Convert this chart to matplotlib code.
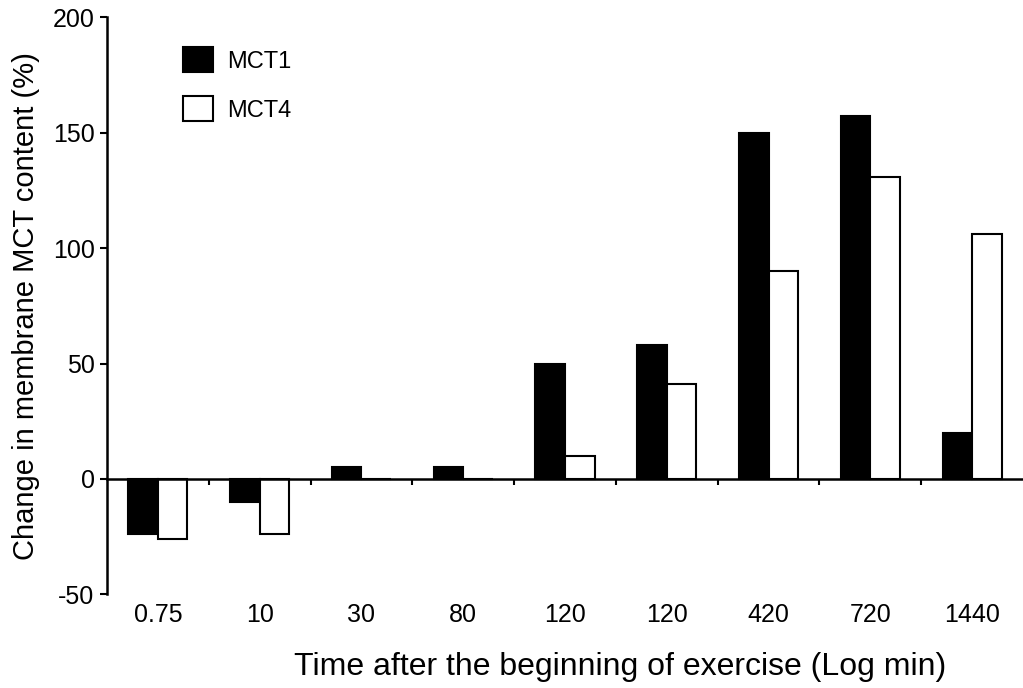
import matplotlib
matplotlib.use("Agg")
import matplotlib.pyplot as plt
from matplotlib.ticker import FuncFormatter
import numpy as np

categories = ["0.75", "10", "30", "80", "120", "120", "420", "720", "1440"]
mct1 = [-24, -10, 5, 5, 50, 58, 150, 157, 20]
mct4 = [-26, -24, 0, 0, 10, 41, 90, 131, 106]

plt.rcParams['font.family'] = ['Liberation Sans', 'DejaVu Sans']
plt.rcParams['axes.unicode_minus'] = False

fig = plt.figure(figsize=(10.23, 6.88), dpi=100)
ax = fig.add_axes([0.1046, 0.136, 0.8954, 0.839])

x = np.arange(len(categories))
w = 0.29
ax.bar(x - w/2, mct1, w, color='black', edgecolor='black', linewidth=1.5, label='MCT1', zorder=3)
ax.bar(x + w/2, mct4, w, color='white', edgecolor='black', linewidth=1.5, label='MCT4', zorder=3)

ax.set_xlim(-0.5, 8.5)
ax.set_ylim(-50, 200)
ax.set_yticks([-50, 0, 50, 100, 150, 200])
ax.yaxis.set_major_formatter(FuncFormatter(lambda v, p: f"{int(v)}"))

for s in ['top', 'right']:
    ax.spines[s].set_visible(False)
ax.spines['left'].set_linewidth(1.8)
ax.spines['bottom'].set_position(('data', 0))
ax.spines['bottom'].set_linewidth(1.8)
ax.spines['bottom'].set_zorder(4)

ax.set_xticks([])
ax.set_xticks(np.arange(0.5, 8.0, 1.0), minor=True)
ax.tick_params(axis='x', which='minor', direction='out', length=4, width=1.5, labelbottom=False)
ax.tick_params(axis='y', direction='out', length=5, width=1.5, labelsize=18, pad=4)

sec = ax.secondary_xaxis(0)
sec.set_xticks(x)
sec.set_xticklabels(categories)
sec.spines['bottom'].set_visible(False)
sec.tick_params(axis='x', length=0, labelsize=18, pad=6)

ax.set_ylabel('Change in membrane MCT content (%)', fontsize=21, labelpad=9)
sec.set_xlabel('Time after the beginning of exercise (Log min)', fontsize=23, labelpad=18)
sec.xaxis.label.set_x(0.56)

ax.legend(loc='upper left', bbox_to_anchor=(0.06, 0.985), frameon=False,
          prop={'size': 17},
          handlelength=1.25, handleheight=1.25, labelspacing=1.0, handletextpad=0.6)

fig.savefig('out.png', dpi=100)
